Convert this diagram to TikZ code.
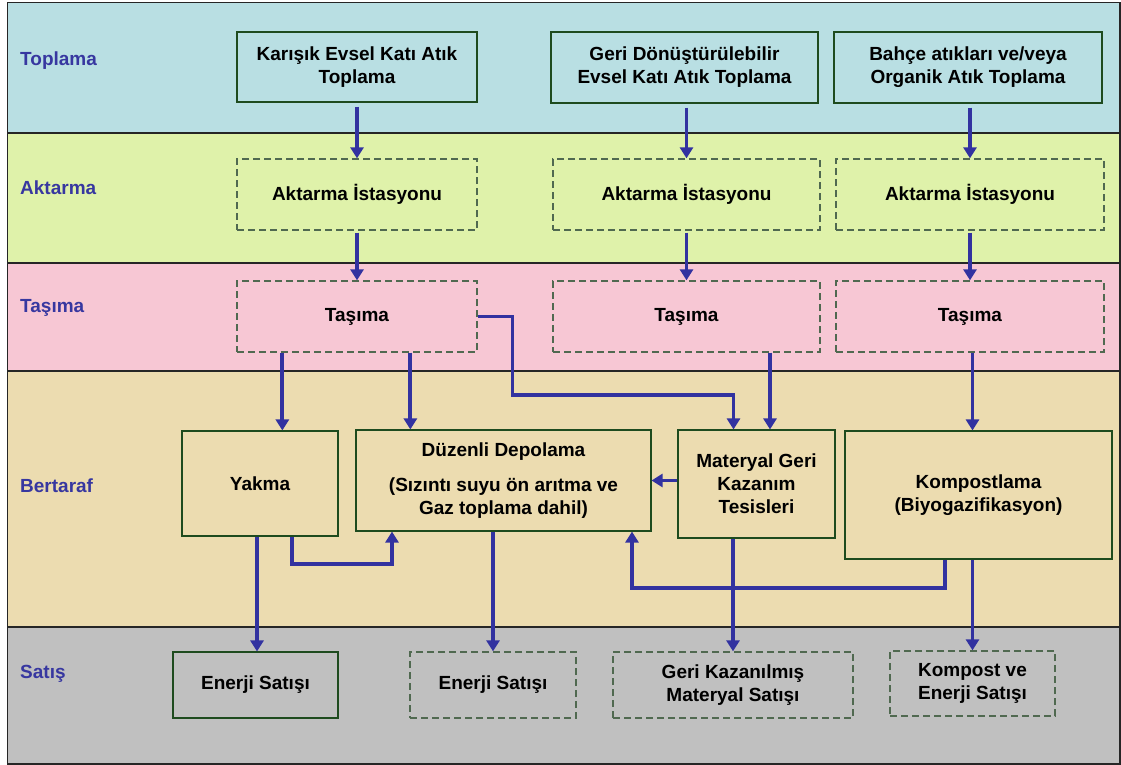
\documentclass[tikz,border=0pt]{standalone}
\usepackage{fontspec}
\setmainfont{Liberation Sans}
\usetikzlibrary{arrows.meta,calc}
\definecolor{bandTop}{RGB}{185,223,227}
\definecolor{bandAkt}{RGB}{223,242,170}
\definecolor{bandTas}{RGB}{247,199,212}
\definecolor{bandBer}{RGB}{236,220,176}
\definecolor{bandSat}{RGB}{192,192,192}
\definecolor{lblblue}{RGB}{55,55,160}
\definecolor{arrblue}{RGB}{50,50,160}
\definecolor{boxgreen}{RGB}{30,75,30}
\definecolor{dashgreen}{RGB}{80,105,80}
\begin{document}
\begin{tikzpicture}[x=1pt,y=-1pt,
  txt/.style={font=\fontsize{19}{23}\selectfont\bfseries, align=center, inner sep=0pt},
  box/.style={txt, draw=boxgreen, line width=1.1pt},
  dbox/.style={txt, draw=dashgreen, line width=1.3pt, dash pattern=on 7pt off 4pt},
  lbl/.style={font=\fontsize{19}{23}\selectfont\bfseries, text=lblblue, anchor=west, inner sep=0pt},
  conn/.style={draw=arrblue, line width=3.8pt, line join=miter, -{Triangle[length=11pt,width=13pt]}},
  band/.style={draw=black!85, line width=1.1pt}]
\useasboundingbox (0,0) rectangle (1121,765);
% bands
\path[band, fill=bandTop] (7.5,2.5) rectangle (1120,133);
\path[band, fill=bandAkt] (7.5,133) rectangle (1120,263);
\path[band, fill=bandTas] (7.5,263) rectangle (1120,371);
\path[band, fill=bandBer] (7.5,371) rectangle (1120,627);
\path[band, fill=bandSat] (7.5,627) rectangle (1120,764);
% band labels
\node[lbl] (lTop) at (20,61) {Toplama};
\node[lbl] (lAkt) at (20,188) {Aktarma};
\node[lbl] (lTas) at (20,308) {Taşıma};
\node[lbl] (lBer) at (20,486) {Bertaraf};
\node[lbl] (lSat) at (20,674) {Satış};
% Toplama row
\node[box, minimum width=240pt, minimum height=70pt] (t1) at (357,67) {Karışık Evsel Katı Atık\\Toplama};
\node[box, minimum width=267pt, minimum height=71pt] (t2) at (684.5,67.5) {Geri Dönüştürülebilir\\Evsel Katı Atık Toplama};
\node[box, minimum width=268pt, minimum height=71pt] (t3) at (968,67.5) {Bahçe atıkları ve/veya\\Organik Atık Toplama};
% Aktarma row
\node[dbox, minimum width=240pt, minimum height=71pt] (a1) at (357,194.5) {Aktarma İstasyonu};
\node[dbox, minimum width=267pt, minimum height=71pt] (a2) at (686.5,194.5) {Aktarma İstasyonu};
\node[dbox, minimum width=268pt, minimum height=71pt] (a3) at (970,194.5) {Aktarma İstasyonu};
% Tasima row
\node[dbox, minimum width=240pt, minimum height=71pt] (s1) at (357,316.5) {Taşıma};
\node[dbox, minimum width=267pt, minimum height=71pt] (s2) at (686.5,316.5) {Taşıma};
\node[dbox, minimum width=268pt, minimum height=71pt] (s3) at (970,316.5) {Taşıma};
% Bertaraf row
\node[box, minimum width=156pt, minimum height=105pt] (yk) at (260,483.5) {Yakma};
\node[box, minimum width=295pt, minimum height=101pt] (dd) at (503.5,480.5) {Düzenli Depolama\\[12pt](Sızıntı suyu ön arıtma ve\\Gaz toplama dahil)};
\node[box, minimum width=157pt, minimum height=108pt] (mg) at (756.5,484) {Materyal Geri\\Kazanım\\Tesisleri};
\node[box, minimum width=267pt, minimum height=128pt] (kp) at (978.5,495) {Kompostlama\\(Biyogazifikasyon)};
% Satis row
\node[box, minimum width=165pt, minimum height=66pt] (e1) at (255.5,685) {Enerji Satışı};
\node[dbox, minimum width=166pt, minimum height=66pt] (e2) at (493,685) {Enerji Satışı};
\node[dbox, minimum width=240pt, minimum height=66pt] (gk) at (733,685) {Geri Kazanılmış\\Materyal Satışı};
\node[dbox, minimum width=165pt, minimum height=65pt] (kv) at (972.5,683.5) {Kompost ve\\Enerji Satışı};
% junctions
\coordinate (j1) at (512.5,395);
\coordinate (jy) at (292,564);
\coordinate (jk) at (945,588);
% connectors top rows
\draw[conn, shorten <=4pt] (t1.south -| a1.north) -- (a1.north);
\draw[conn, shorten <=4pt] (t2.south -| a2.north) -- (a2.north);
\draw[conn, shorten <=4pt] (t3.south -| a3.north) -- (a3.north);
\draw[conn, shorten <=2pt] (a1.south) -- (s1.north);
\draw[conn, shorten <=2pt] (a2.south) -- (s2.north);
\draw[conn, shorten <=2pt] (a3.south) -- (s3.north);
% Tasima to Bertaraf
\draw[conn] ([xshift=46pt]s1.south west) -- ([xshift=46pt]s1.south west |- yk.north);
\draw[conn] ([xshift=174pt]s1.south west) -- ([xshift=174pt]s1.south west |- dd.north);
\draw[conn] (s1.east) -| (j1) -| ([xshift=-23pt]mg.north);
\draw[conn] ([xshift=13.5pt]mg.north |- s2.south) -- ([xshift=13.5pt]mg.north);
\draw[conn] ([xshift=2.5pt]s3.south) -- ([xshift=2.5pt]s3.south |- kp.north);
% within Bertaraf
\draw[conn] (mg.west |- dd.east) -- (dd.east);
\draw[conn] ([xshift=32pt]yk.south) -- (jy) -| ([xshift=-111.5pt]dd.south);
\draw[conn] ([xshift=-33.5pt]kp.south) -- (jk) -| ([xshift=128.5pt]dd.south);
% to Satis
\draw[conn] ([xshift=-3pt]yk.south) -- ([xshift=-3pt]yk.south |- e1.north);
\draw[conn] (e2.north |- dd.south) -- (e2.north);
\draw[conn] (gk.north |- mg.south) -- (gk.north);
\draw[conn] (kv.north |- kp.south) -- (kv.north);
\end{tikzpicture}
\end{document}
